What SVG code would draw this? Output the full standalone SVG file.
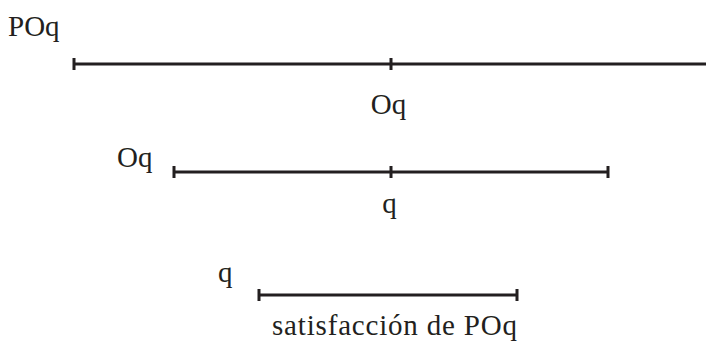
<svg xmlns="http://www.w3.org/2000/svg" width="706" height="341" viewBox="0 0 706 341">
<style>
text{font-family:'Liberation Serif','Times New Roman',serif;font-size:29px;fill:#231f20}
.l{stroke:#231f20;stroke-width:3;fill:none}
</style>
<rect width="706" height="341" fill="#fff"/>
<g id="connectors">
<path class="l" d="M74,64H706M74,58V70M391,58V70"/>
<path class="l" d="M174,172H608M174,166V178M391,166V178M608,166V178"/>
<path class="l" d="M259,295H517M259,289V301M517,289V301"/>
</g>
<g id="label-POq"><text x="8" y="36">POq</text></g>
<g id="label-Oq1"><text x="388.5" y="114" text-anchor="middle">Oq</text></g>
<g id="label-Oq2"><text x="117" y="167">Oq</text></g>
<g id="label-q1"><text x="389.5" y="213" text-anchor="middle">q</text></g>
<g id="label-q2"><text x="218" y="282">q</text></g>
<g id="label-sat"><text x="272" y="335" textLength="245" lengthAdjust="spacing">satisfacción de POq</text></g>
</svg>
